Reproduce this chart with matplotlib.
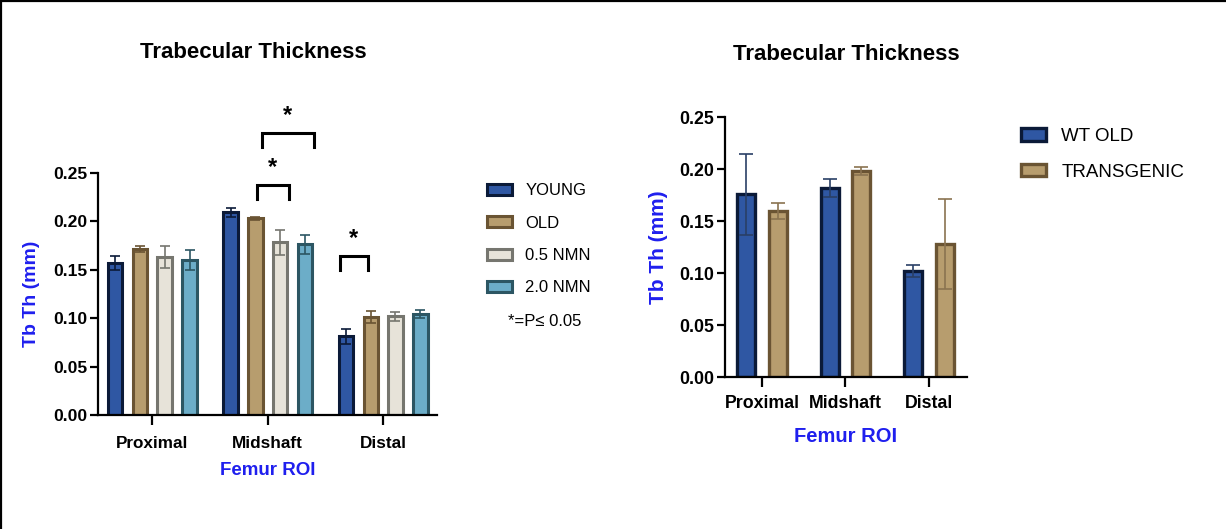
import matplotlib
matplotlib.use('Agg')
import matplotlib.pyplot as plt
import numpy as np
from matplotlib.patches import Patch
from matplotlib.lines import Line2D

plt.rcParams['font.family'] = ['Liberation Sans', 'DejaVu Sans']

# ---------------- data ----------------
regions = ['Proximal', 'Midshaft', 'Distal']

groups_left = ['YOUNG', 'OLD', '0.5 NMN', '2.0 NMN']
young = [0.157, 0.209, 0.081]
young_err = [0.007, 0.005, 0.008]
old = [0.171, 0.203, 0.101]
old_err = [0.003, 0.0015, 0.0065]
nmn05 = [0.163, 0.178, 0.102]
nmn05_err = [0.011, 0.013, 0.0045]
nmn20 = [0.160, 0.176, 0.104]
nmn20_err = [0.010, 0.0095, 0.004]

groups_right = ['WT OLD', 'TRANSGENIC']
wt_old = [0.176, 0.182, 0.102]
wt_old_err = [0.039, 0.0085, 0.0055]
transgenic = [0.160, 0.198, 0.128]
transgenic_err = [0.0075, 0.004, 0.043]

yticks = [0.00, 0.05, 0.10, 0.15, 0.20, 0.25]
ytick_labels = ['0.00', '0.05', '0.10', '0.15', '0.20', '0.25']

# significance brackets on left chart: (x_start, x_end, y_top) in data units
sig_brackets = [(0.952, 1.403, 0.291), (0.909, 1.186, 0.2374), (1.628, 1.870, 0.164)]

title = 'Trabecular Thickness'
ylabel = 'Tb Th (mm)'
xlabel = 'Femur ROI'
sig_note = '*=P\u2264 0.05'

# ---------------- styles ----------------
fills_left = ['#2f57a3', '#b79d6e', '#e7e3d9', '#6cadc8']
edges_left = ['#0b1a38', '#6a5433', '#76766f', '#2c5663']
blue = '#1f1fee'

W, H = 1226, 529
fig = plt.figure(figsize=(W / 100, H / 100), dpi=100)


def fx(px):
    return px / W


def fy(py):
    return 1 - py / H


def style_axes(ax, tick_fs):
    for s in ['top', 'right']:
        ax.spines[s].set_visible(False)
    for s in ['left', 'bottom']:
        ax.spines[s].set_linewidth(1.6)
        ax.spines[s].set_color('black')
    ax.set_ylim(0, 0.25)
    ax.set_yticks(yticks)
    ax.set_yticklabels(ytick_labels, fontsize=tick_fs, fontweight='bold')
    ax.tick_params(axis='y', length=6, width=1.6, pad=2)
    ax.tick_params(axis='x', length=7, width=1.6, pad=8)
    ax.set_facecolor('none')


# ---------------- left chart ----------------
axL = fig.add_axes([fx(98), fy(415), fx(437) - fx(98), fy(172.7) - fy(415)])
x = np.arange(len(regions))
offsetsL = [-0.32, -0.104, 0.108, 0.325]
seriesL = [young, old, nmn05, nmn20]
errsL = [young_err, old_err, nmn05_err, nmn20_err]
for i in range(4):
    axL.bar(x + offsetsL[i], seriesL[i], width=0.124, color=fills_left[i],
            edgecolor=edges_left[i], linewidth=2.2, zorder=2, label=groups_left[i])
    axL.errorbar(x + offsetsL[i], seriesL[i], yerr=errsL[i], fmt='none',
                 ecolor=edges_left[i], elinewidth=1.2, capsize=3.5, capthick=1.2, zorder=3)
axL.set_xlim(-0.468, 2.468)
axL.set_xticks(x)
axL.set_xticklabels(regions, fontsize=12.3, fontweight='bold')
style_axes(axL, 12.6)
axL.set_xlabel(xlabel, fontsize=13.5, fontweight='bold', color=blue, labelpad=8)
axL.set_ylabel(ylabel, fontsize=14, fontweight='bold', color=blue, labelpad=9)

for (x1, x2, yt) in sig_brackets:
    drop = 0.0145
    axL.plot([x1, x1, x2, x2], [yt - drop, yt, yt, yt - drop], color='black',
             lw=2.2, clip_on=False, solid_joinstyle='miter', zorder=4)
    axL.text((x1 + x2) / 2, yt + 0.006, '*', ha='center', va='bottom',
             fontsize=17, fontweight='bold', clip_on=False)

fig.text(fx(253.5), fy(52), title, ha='center', va='center', fontsize=16, fontweight='bold')

handlesL = [Patch(facecolor=fills_left[i], edgecolor=edges_left[i], linewidth=2.2)
            for i in range(4)]
legL = fig.legend(handlesL, groups_left, loc='upper left',
                  bbox_to_anchor=(fx(487), fy(183)), frameon=False, fontsize=12,
                  handlelength=1.5, handleheight=0.65, handletextpad=0.8,
                  labelspacing=1.05, borderpad=0, borderaxespad=0)
fig.text(fx(545), fy(321), sig_note, ha='center', va='center', fontsize=12)

# ---------------- right chart ----------------
axR = fig.add_axes([fx(725), fy(377), fx(967) - fx(725), fy(117.3) - fy(377)])
offsetsR = [-0.186, 0.186]
seriesR = [wt_old, transgenic]
errsR = [wt_old_err, transgenic_err]
fills_right = [fills_left[0], fills_left[1]]
edges_right = [edges_left[0], edges_left[1]]
err_right = ['#2a3f66', '#8a7350']
for i in range(2):
    axR.bar(x + offsetsR[i], seriesR[i], width=0.215, color=fills_right[i],
            edgecolor=edges_right[i], linewidth=2.4, zorder=2)
    axR.errorbar(x + offsetsR[i], seriesR[i], yerr=errsR[i], fmt='none',
                 ecolor=err_right[i], elinewidth=1.2, capsize=5, capthick=1.2, zorder=3)
axR.set_xlim(-0.443, 2.455)
axR.set_xticks(x)
axR.set_xticklabels(regions, fontsize=12.8, fontweight='bold')
style_axes(axR, 12.8)
axR.tick_params(axis='x', pad=6)
axR.set_xlabel(xlabel, fontsize=14.5, fontweight='bold', color=blue, labelpad=11)
axR.set_ylabel(ylabel, fontsize=15, fontweight='bold', color=blue, labelpad=8)

fig.text(fx(846), fy(55), title, ha='center', va='center', fontsize=16, fontweight='bold')

handlesR = [Patch(facecolor=fills_right[i], edgecolor=edges_right[i], linewidth=2.4)
            for i in range(2)]
legR = fig.legend(handlesR, groups_right, loc='upper left',
                  bbox_to_anchor=(fx(1021), fy(128)), frameon=False, fontsize=13.5,
                  handlelength=1.35, handleheight=0.65, handletextpad=0.8,
                  labelspacing=1.0, borderpad=0, borderaxespad=0)

# ---------------- figure border (top & left) ----------------
fig.add_artist(Line2D([0, 1], [fy(1), fy(1)], transform=fig.transFigure, color='black', lw=1.6))
fig.add_artist(Line2D([fx(1), fx(1)], [0, 1], transform=fig.transFigure, color='black', lw=1.6))

fig.savefig('out.png', dpi=100, facecolor='white')
